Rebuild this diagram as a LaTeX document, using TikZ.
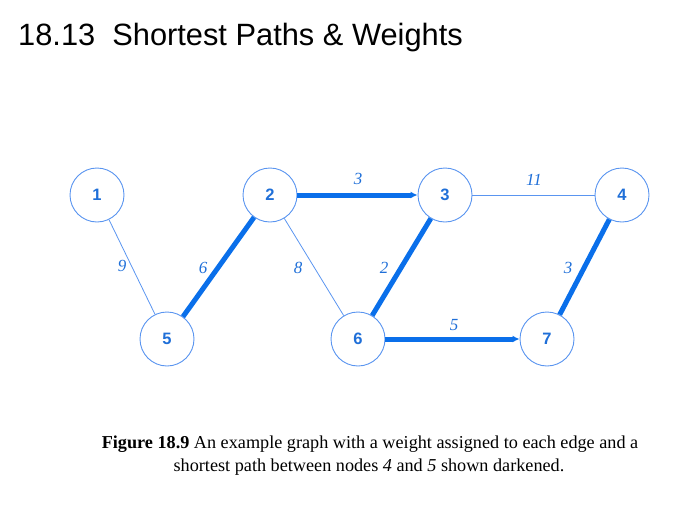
\documentclass[tikz,border=0pt]{standalone}
\usepackage{fontspec}
\setmainfont{Liberation Serif}
\setsansfont{Liberation Sans}
\usetikzlibrary{arrows.meta}

\definecolor{ringblue}{HTML}{5A95F0}
\definecolor{pathblue}{HTML}{0A6FEA}
\definecolor{textblue}{HTML}{1F6FD8}

\tikzset{
  vertex/.style={circle,draw=ringblue,line width=0.9pt,fill=white,minimum size=54pt,inner sep=0pt,
    text=textblue,font=\sffamily\bfseries\fontsize{16.5}{16.5}\selectfont},
  thinedge/.style={draw=ringblue,line width=0.8pt},
  pathedge/.style={draw=pathblue,line width=5pt},
  weight/.style={text=textblue,font=\itshape\fontsize{17}{17}\selectfont}
}

\begin{document}
\begin{tikzpicture}[x=1pt,y=-1pt]
\useasboundingbox (0,0) rectangle (697,517);

% title
\node[anchor=base west,inner sep=0pt,font=\sffamily\fontsize{30.8}{30.8}\selectfont] (title) at (18,45) {18.13\ \ Shortest Paths \& Weights};

% vertices
\node[vertex] (n1) at (97,195) {1};
\node[vertex] (n2) at (270,195) {2};
\node[vertex] (n3) at (445,195) {3};
\node[vertex] (n4) at (622,195) {4};
\node[vertex] (n5) at (167,339) {5};
\node[vertex] (n6) at (358,339) {6};
\node[vertex] (n7) at (547,339) {7};

% plain edges
\draw[thinedge] (n1) -- (n5);
\draw[thinedge] (n2) -- (n6);
\draw[thinedge] (n3) -- (n4);

% shortest path, darkened
\draw[pathedge] (n5) -- (n2);
\draw[pathedge,-{Latex[length=7pt,width=7pt]}] (n2) -- (n3);
\draw[pathedge] (n3) -- (n6);
\draw[pathedge,-{Latex[length=7pt,width=7pt]}] (n6) -- (n7);
\draw[pathedge] (n7) -- (n4);

% weights
\node[weight] (w15) at (122,266) {9};
\node[weight] (w52) at (203,268) {6};
\node[weight] (w26) at (298,268) {8};
\node[weight] (w23) at (358,179) {3};
\node[weight] (w36) at (384,268) {2};
\node[weight] (w34) at (534,180) {11};
\node[weight] (w47) at (568,268) {3};
\node[weight] (w67) at (454,325) {5};

% caption
\node[anchor=base,font=\fontsize{18.2}{18.2}\selectfont] (cap1) at (370,448) {\textbf{Figure 18.9} An example graph with a weight assigned to each edge and a};
\node[anchor=base,font=\fontsize{18.2}{18.2}\selectfont] (cap2) at (369,471) {shortest path between nodes \textit{4} and \textit{5} shown darkened.};

\end{tikzpicture}
\end{document}
